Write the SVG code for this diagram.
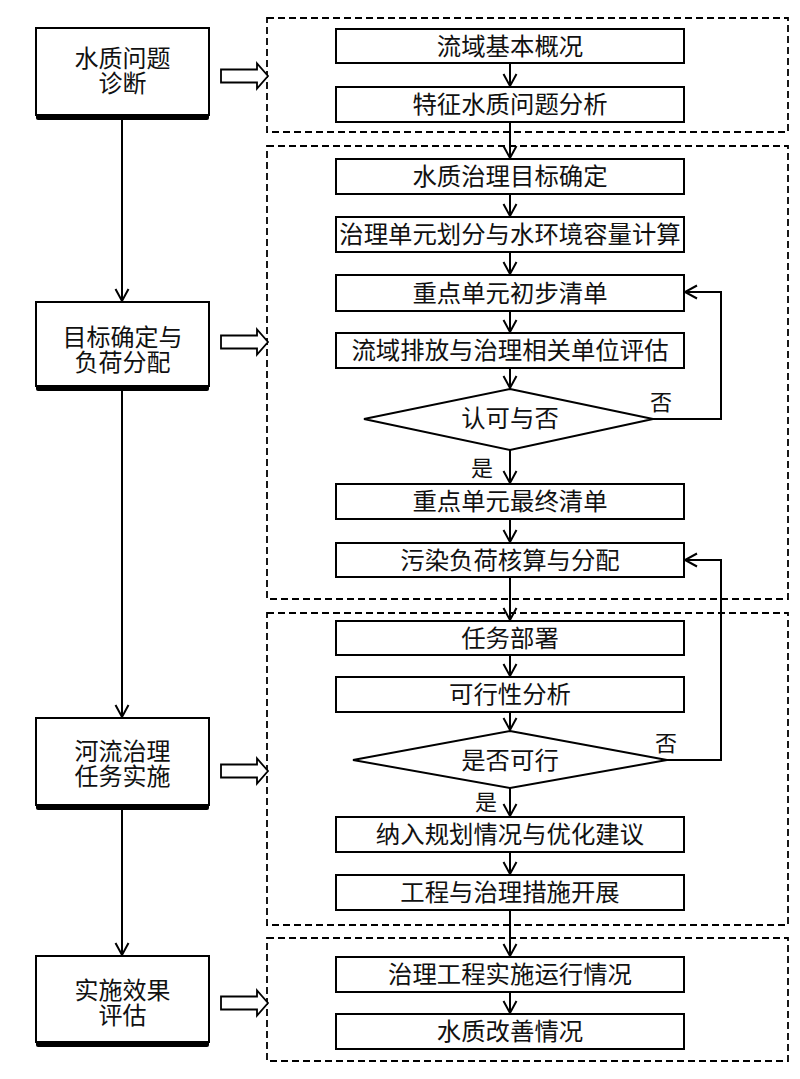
<svg xmlns="http://www.w3.org/2000/svg" width="800" height="1079" viewBox="0 0 800 1079">
<style>
.bx{fill:#fff;stroke:#000;stroke-width:2}
.sh{fill:#000}
.dash{fill:none;stroke:#000;stroke-width:1.8;stroke-dasharray:7 4}
.t{font-family:"Liberation Serif","Noto Sans CJK SC",serif;font-size:24.4px;fill:#111;text-anchor:middle}
.tl{font-family:"Liberation Serif","Noto Sans CJK SC",serif;font-size:24px;fill:#111;text-anchor:middle}
.lb{font-family:"Liberation Serif","Noto Sans CJK SC",serif;font-size:22px;fill:#111;text-anchor:middle}
.ln{fill:none;stroke:#000;stroke-width:2}
.ha{fill:#fff;stroke:#000;stroke-width:1.8}
</style>
<defs>
<marker id="a" viewBox="-14 -8 16 16" refX="0" refY="0" markerWidth="16" markerHeight="16" markerUnits="userSpaceOnUse" orient="auto" overflow="visible">
<path d="M-12,-6.5 L0,0 L-12,6.5" fill="none" stroke="#000" stroke-width="2"/>
</marker>
</defs>
<rect width="800" height="1079" fill="#fff"/>

<!-- dashed groups -->
<g id="groups">
<rect class="dash" x="267" y="18" width="521" height="114"/>
<rect class="dash" x="267" y="146" width="521" height="453"/>
<rect class="dash" x="267" y="613" width="521" height="312"/>
<rect class="dash" x="267" y="938" width="521" height="123"/>
</g>

<!-- left stage nodes -->
<g id="s1">
<rect class="sh" x="36" y="114" width="173" height="6" rx="2"/>
<rect class="bx" x="36" y="28" width="173" height="87"/>
<text class="tl" x="122.5" y="67">水质问题</text>
<text class="tl" x="122.5" y="92">诊断</text>
</g>
<g id="s2">
<rect class="sh" x="36" y="385" width="173" height="6" rx="2"/>
<rect class="bx" x="36" y="302" width="173" height="84"/>
<text class="tl" x="122.5" y="346">目标确定与</text>
<text class="tl" x="122.5" y="371">负荷分配</text>
</g>
<g id="s3">
<rect class="sh" x="36" y="804" width="173" height="6" rx="2"/>
<rect class="bx" x="36" y="718" width="173" height="87"/>
<text class="tl" x="122.5" y="760">河流治理</text>
<text class="tl" x="122.5" y="785">任务实施</text>
</g>
<g id="s4">
<rect class="sh" x="36" y="1041" width="173" height="6" rx="2"/>
<rect class="bx" x="36" y="956" width="173" height="86"/>
<text class="tl" x="122.5" y="999">实施效果</text>
<text class="tl" x="122.5" y="1024">评估</text>
</g>

<!-- hollow arrows -->
<g id="hollow">
<polygon class="ha" points="221,69.5 257,69.5 257,63.5 268,76 257,88.5 257,82.5 221,82.5"/>
<polygon class="ha" points="221,335.5 257,335.5 257,329.5 268,342 257,354.5 257,348.5 221,348.5"/>
<polygon class="ha" points="221,764.5 257,764.5 257,758.5 268,771 257,783.5 257,777.5 221,777.5"/>
<polygon class="ha" points="221,996.5 257,996.5 257,990.5 268,1003 257,1015.5 257,1009.5 221,1009.5"/>
</g>

<!-- inner nodes -->
<g id="n1"><rect class="bx" x="336" y="29" width="348" height="34"/><text class="t" x="510" y="55">流域基本概况</text></g>
<g id="n2"><rect class="bx" x="336" y="87" width="348" height="35"/><text class="t" x="510" y="113">特征水质问题分析</text></g>
<g id="n3"><rect class="bx" x="336" y="159" width="348" height="35"/><text class="t" x="510" y="185">水质治理目标确定</text></g>
<g id="n4"><rect class="bx" x="336" y="217" width="348" height="35"/><text class="t" x="510" y="243">治理单元划分与水环境容量计算</text></g>
<g id="n5"><rect class="bx" x="336" y="275" width="348" height="36"/><text class="t" x="510" y="302">重点单元初步清单</text></g>
<g id="n6"><rect class="bx" x="336" y="333" width="348" height="35"/><text class="t" x="510" y="359">流域排放与治理相关单位评估</text></g>
<g id="d1"><polygon class="bx" points="510,389 653,419 510,450 364,419"/><text class="t" x="510" y="427">认可与否</text></g>
<g id="n7"><rect class="bx" x="336" y="484" width="348" height="35"/><text class="t" x="510" y="510">重点单元最终清单</text></g>
<g id="n8"><rect class="bx" x="336" y="543" width="348" height="34"/><text class="t" x="510" y="569">污染负荷核算与分配</text></g>
<g id="n9"><rect class="bx" x="336" y="621" width="348" height="34"/><text class="t" x="510" y="647">任务部署</text></g>
<g id="n10"><rect class="bx" x="336" y="677" width="348" height="35"/><text class="t" x="510" y="703">可行性分析</text></g>
<g id="d2"><polygon class="bx" points="510,731 667,760 510,788 353,760"/><text class="t" x="510" y="769">是否可行</text></g>
<g id="n11"><rect class="bx" x="336" y="817" width="348" height="35"/><text class="t" x="510" y="843">纳入规划情况与优化建议</text></g>
<g id="n12"><rect class="bx" x="336" y="875" width="348" height="35"/><text class="t" x="510" y="901">工程与治理措施开展</text></g>
<g id="n13"><rect class="bx" x="336" y="957" width="348" height="35"/><text class="t" x="510" y="983">治理工程实施运行情况</text></g>
<g id="n14"><rect class="bx" x="336" y="1014" width="348" height="35"/><text class="t" x="510" y="1040">水质改善情况</text></g>

<!-- connectors -->
<g id="connectors">
<line class="ln" x1="122" y1="120" x2="122" y2="301" marker-end="url(#a)"/>
<line class="ln" x1="122" y1="391" x2="122" y2="717" marker-end="url(#a)"/>
<line class="ln" x1="122" y1="810" x2="122" y2="955" marker-end="url(#a)"/>
<line class="ln" x1="510" y1="63" x2="510" y2="86" marker-end="url(#a)"/>
<line class="ln" x1="510" y1="122" x2="510" y2="158" marker-end="url(#a)"/>
<line class="ln" x1="510" y1="194" x2="510" y2="216" marker-end="url(#a)"/>
<line class="ln" x1="510" y1="252" x2="510" y2="274" marker-end="url(#a)"/>
<line class="ln" x1="510" y1="311" x2="510" y2="332" marker-end="url(#a)"/>
<line class="ln" x1="510" y1="368" x2="510" y2="388" marker-end="url(#a)"/>
<line class="ln" x1="510" y1="450" x2="510" y2="483" marker-end="url(#a)"/>
<line class="ln" x1="510" y1="519" x2="510" y2="542" marker-end="url(#a)"/>
<line class="ln" x1="510" y1="577" x2="510" y2="620" marker-end="url(#a)"/>
<line class="ln" x1="510" y1="655" x2="510" y2="676" marker-end="url(#a)"/>
<line class="ln" x1="510" y1="712" x2="510" y2="730" marker-end="url(#a)"/>
<line class="ln" x1="510" y1="788" x2="510" y2="816" marker-end="url(#a)"/>
<line class="ln" x1="510" y1="852" x2="510" y2="874" marker-end="url(#a)"/>
<line class="ln" x1="510" y1="910" x2="510" y2="956" marker-end="url(#a)"/>
<line class="ln" x1="510" y1="992" x2="510" y2="1013" marker-end="url(#a)"/>
<polyline class="ln" points="653,419 721,419 721,292 685,292" marker-end="url(#a)"/>
<polyline class="ln" points="667,760 721,760 721,560 685,560" marker-end="url(#a)"/>
<text class="lb" x="661" y="410">否</text>
<text class="lb" x="482" y="476">是</text>
<text class="lb" x="666" y="751">否</text>
<text class="lb" x="486" y="810">是</text>
</g>
</svg>
